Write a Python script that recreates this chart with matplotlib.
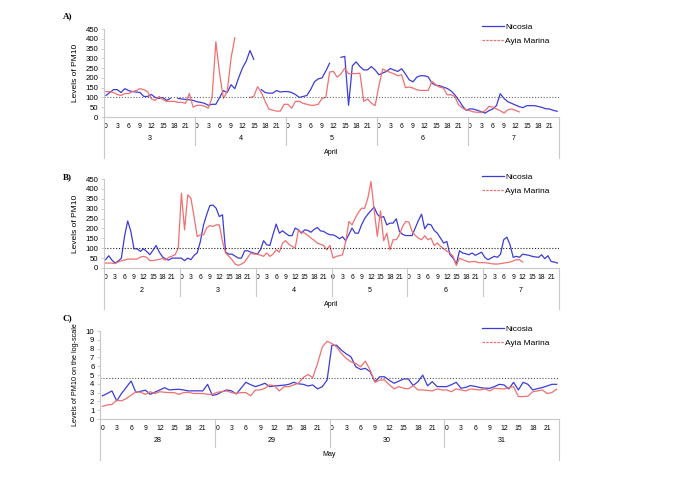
import numpy as np
import matplotlib
matplotlib.use('Agg')
import matplotlib.pyplot as plt
from matplotlib.lines import Line2D
from matplotlib.transforms import blended_transform_factory

plt.rcParams['font.family'] = ['Liberation Sans', 'DejaVu Sans']

nan = np.nan
hour_labels = [0, 3, 6, 9, 12, 15, 18, 21]

# Panel A: April 3-7, hourly PM10
a_days = ['3', '4', '5', '6', '7']
a_nicosia = [
    110, 125, 140, 140, 125, 145, 135, 130, 128, 125, 105, 105, 115, 100, 95, 100, 85, 95, nan, 95, 92, 90, 88, 85,
    78, 75, 70, 60, 65, 65, 100, 135, 125, 165, 145, 200, 250, 285, 340, 295, nan, 140, 125, 122, 122, 135, 128, 130,
    130, 125, 115, 100, 105, 110, 140, 180, 195, 200, 235, 275, nan, nan, 305, 310, 60, 262, 282, 258, 241, 241, 258, 241,
    216, 225, 233, 248, 240, 233, 247, 220, 190, 180, 204, 211, 211, 205, 173, 162, 160, 153, 146, 134, 114, 88, 58, 34,
    42, 40, 34, 27, 20, 32, 41, 58, 119, 95, 78, 70, 61, 53, 48, 58, 58, 58, 54, 49, 42, 41, 34, 29,
]
a_ayia = [
    130, 130, 125, 115, 110, 120, 120, 130, 135, 145, 140, 130, 92, 85, 105, 90, 80, 80, 80, 75, 75, 70, 120, 50,
    60, 60, 55, 45, 100, 385, 220, 95, 130, 300, 405, nan, nan, nan, 100, 105, 155, 125, 80, 40, 35, 30, 30, 65,
    65, 45, 80, 80, 70, 65, 60, 60, 65, 95, 100, 230, 233, 204, 221, 250, 221, 222, 222, 224, 80, 92, 71, 58,
    160, 245, 236, 228, 221, 211, 216, 150, 153, 148, 139, 136, 136, 136, 182, 165, 153, 148, 114, 114, 105, 63, 46, 37,
    32, 26, 24, 24, 32, 54, 51, 41, 32, 20, 37, 41, 34, 26, nan, nan, nan, nan, nan, nan, nan, nan, nan, nan,
]

# Panel B: April 2-7
b_days = ['2', '3', '4', '5', '6', '7']
b_nicosia = [
    42, 62, 40, 25, 35, 50, 160, 238, 185, 97, 97, 84, 97, 84, 67, 90, 114, 80, 57, 45, 40, 50, 50, 50,
    50, 37, 50, 42, 64, 76, 134, 218, 270, 316, 318, 302, 260, 269, 80, 70, 70, 60, 50, 50, 87, 87, 80, 75,
    70, 92, 138, 118, 114, 170, 222, 176, 188, 175, 164, 163, 202, 193, 176, 193, 190, 181, 195, 205, 188, 185, 175, 168,
    168, 160, 148, 158, 138, 170, 202, 176, 176, 218, 250, 272, 290, 308, 272, 255, 260, 218, 227, 227, 249, 185, 170, 164,
    164, 164, 202, 240, 272, 198, 222, 218, 190, 176, 151, 126, 134, 67, 50, 20, 87, 76, 72, 67, 76, 64, 72, 80,
    54, 42, 50, 59, 54, 70, 143, 156, 118, 54, 59, 54, 70, 67, 64, 59, 56, 54, 67, 47, 62, 33, 30, 25,
]
b_ayia = [
    25, 25, 25, 22, 30, 37, 40, 45, 45, 45, 45, 55, 59, 54, 37, 38, 40, 44, 48, 40, 54, 60, 67, 101,
    378, 193, 370, 353, 260, 159, 168, 168, 202, 215, 210, 218, 218, 134, 76, 60, 42, 20, 13, 20, 30, 54, 76, 70,
    70, 65, 59, 76, 59, 70, 92, 80, 126, 138, 120, 109, 101, 188, 182, 176, 165, 151, 140, 126, 120, 114, 92, 114,
    50, 59, 62, 67, 134, 235, 218, 252, 280, 302, 302, 353, 437, 294, 160, 289, 138, 176, 92, 143, 143, 168, 210, 235,
    232, 185, 165, 151, 143, 163, 143, 151, 114, 126, 110, 97, 85, 76, 59, 13, 50, 42, 36, 30, 32, 33, 27, 27,
    27, 25, 22, 20, 20, 22, 25, 27, 30, 36, 42, 42, 30, nan, nan, nan, nan, nan, nan, nan, nan, nan, nan, nan,
]

# Panel C: May 28-31, log-scale values
c_days = ['28', '29', '30', '31']
c_nicosia = [
    2.63, 2.9, 3.19, 2.06, 2.9, 3.6, 4.32, 3.04, 3.15, 3.27, 2.8, 3.05, 3.3, 3.56, 3.3, 3.35, 3.38, 3.3, 3.19, 3.2, 3.2, 3.19, 3.94, 2.67,
    2.8, 3.1, 3.3, 3.2, 2.84, 3.5, 4.17, 3.9, 3.68, 3.85, 4.06, 3.68, 3.75, 3.8, 3.85, 3.94, 4.17, 4.0, 3.94, 3.75, 3.87, 3.42, 3.68, 4.43,
    8.38, 8.38, 7.82, 7.4, 7.06, 5.93, 5.64, 5.75, 5.37, 4.24, 4.8, 4.8, 4.4, 4.06, 4.3, 4.55, 4.55, 3.8, 4.24, 4.99, 3.77, 4.24, 3.68, 3.68,
    3.68, 3.9, 4.17, 3.49, 3.6, 3.8, 3.7, 3.57, 3.5, 3.49, 3.68, 3.94, 3.87, 3.42, 4.17, 3.3, 4.17, 3.94, 3.3, 3.45, 3.57, 3.75, 3.94, 3.94,
]
c_ayia = [
    1.43, 1.6, 1.66, 2.15, 2.06, 2.33, 2.7, 3.1, 3.04, 2.8, 3.1, 2.9, 3.1, 3.04, 3.0, 3.0, 2.8, 3.0, 3.04, 2.9, 2.9, 2.9, 2.8, 2.8,
    3.04, 3.1, 3.19, 3.0, 2.9, 3.0, 3.0, 2.63, 3.3, 3.3, 3.49, 3.87, 3.77, 3.19, 3.68, 3.68, 3.87, 4.06, 4.7, 5.07, 4.7, 6.31, 8.19, 8.83,
    8.57, 8.19, 7.44, 6.88, 6.5, 6.31, 5.93, 6.58, 5.56, 4.17, 4.43, 4.43, 3.9, 3.42, 3.68, 3.5, 3.42, 3.8, 3.3, 3.3, 3.25, 3.19, 3.42, 3.3,
    3.3, 3.1, 3.42, 3.3, 3.19, 3.42, 3.35, 3.3, 3.42, 3.19, 3.49, 3.45, 3.42, 3.55, 3.68, 2.55, 2.55, 2.6, 3.1, 3.19, 3.3, 2.9, 3.0, 3.38,
]

W, H = 685, 484
fig = plt.figure(figsize=(W / 100, H / 100), dpi=100)

BLUE = '#3c3cd8'
RED = '#f07070'
GRID = '#c8c8c8'
FS = 5.6


def px_rect(left, top, right, bottom):
    return [left / W, 1 - bottom / H, (right - left) / W, (bottom - top) / H]


def panel(rect_px, letter, letter_y, days, month, nicosia, ayia, limit,
          ymax, ystep, ylabel, ylabel_fs, limit_color):
    left, top, right, bottom = rect_px
    ax = fig.add_axes(px_rect(*rect_px))
    ax_h = bottom - top
    n = len(nicosia)
    x = np.arange(n)
    ax.plot(x, nicosia, color=BLUE, lw=0.9)
    ax.plot(x, ayia, color=RED, lw=0.9)
    ax.axhline(limit, color=limit_color, lw=0.8, ls=(0, (1, 1.6)))
    ax.set_xlim(-0.5, n - 0.5)
    ax.set_ylim(0, ymax)
    ax.set_yticks(np.arange(0, ymax + ystep / 2, ystep))
    ax.tick_params(axis='y', labelsize=FS, length=2, width=0.6, color=GRID, pad=2)
    for s in ['top', 'right']:
        ax.spines[s].set_visible(False)
    for s in ['left', 'bottom']:
        ax.spines[s].set_color(GRID)
        ax.spines[s].set_linewidth(0.8)

    # hour labels
    ticks, labels = [], []
    for d in range(len(days)):
        for h in hour_labels:
            ticks.append(d * 24 + h)
            labels.append(str(h))
    ax.set_xticks(ticks)
    ax.set_xticklabels(labels)
    ax.tick_params(axis='x', length=0, labelsize=FS - 0.7, pad=4)

    # day group labels and separators
    tr = blended_transform_factory(ax.transData, ax.transAxes)
    for d, day in enumerate(days):
        ax.text(d * 24 + 11.5, -22 / ax_h, day, transform=tr, fontsize=FS - 0.5,
                ha='center', va='center')
        if d > 0:
            ax.plot([d * 24 - 0.5] * 2, [0, -28 / ax_h], transform=tr,
                    color=GRID, lw=0.8, clip_on=False)
    for xe in [-0.5, n - 0.5]:
        ax.plot([xe] * 2, [0, -41 / ax_h], transform=tr, color=GRID, lw=0.8,
                clip_on=False)
    ax.text(0.5, -36 / ax_h, month, transform=ax.transAxes, fontsize=FS - 0.5,
            ha='center', va='center')

    ax.set_ylabel(ylabel, fontsize=ylabel_fs)
    ax.yaxis.set_label_coords((79 - left) / (right - left), 0.5)

    fig.text(63 / W, 1 - letter_y / H, letter, family='Liberation Serif',
             weight='bold', fontsize=6.5, va='center')
    handles = [Line2D([], [], color=BLUE, lw=0.9),
               Line2D([], [], color=RED, lw=0.9, dashes=(2, 1))]
    ax.legend(handles, ['Nicosia', 'Ayia Marina'], loc='upper left',
              bbox_to_anchor=(482 / W, 1 - (top - 6) / H),
              bbox_transform=fig.transFigure, frameon=False, fontsize=FS + 0.4,
              handlelength=2.6, handletextpad=0.2, labelspacing=0.75,
              borderpad=0, borderaxespad=0)
    return ax


panel((104, 29, 559, 117), 'A)', 16, a_days, 'April', a_nicosia, a_ayia,
      100, 450, 50, 'Levels of PM10', 6.0, '#666666')
panel((104, 179, 559, 268), 'B)', 177, b_days, 'April', b_nicosia, b_ayia,
      100, 450, 50, 'Levels of PM10', 6.0, '#222222')
panel((100, 331, 559, 419), 'C)', 318, c_days, 'May', c_nicosia, c_ayia,
      4.62, 10, 1, 'Levels of PM10 on the log-scale', 5.2, '#555555')

fig.savefig('out.png', dpi=100)
